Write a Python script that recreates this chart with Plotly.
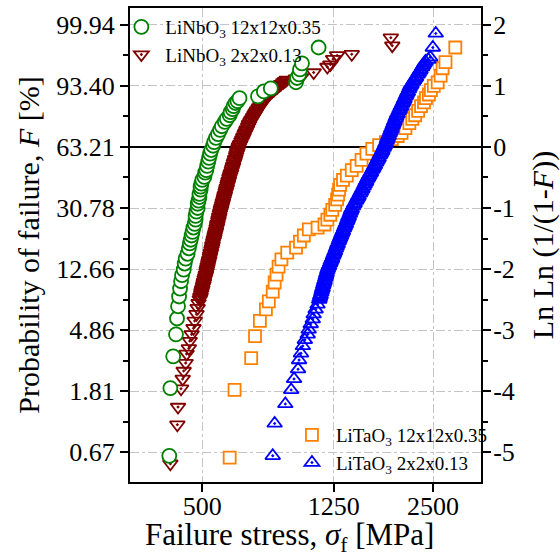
import plotly.graph_objects as go

FONT = '"Liberation Serif", "Times New Roman", Times, serif'

# ---------------------------------------------------------------------------
# Weibull plot data: failure stress [MPa] vs. ln(ln(1/(1-F)))
# ---------------------------------------------------------------------------

# LiNbO3 12x12x0.35
nb12_stress = [397, 400, 408, 416, 419, 422, 425, 428, 431, 434, 439, 442, 445, 451, 455,
               458, 461, 464, 467, 470, 474, 477, 477, 480, 484, 484, 487, 490, 490, 494,
               494, 497, 500, 507, 510, 514, 517, 521, 524, 528, 532, 539, 543, 550, 558,
               566, 573, 585, 593, 605, 609, 618, 622, 630, 639, 648, 737, 768, 806, 961,
               968, 982, 988, 1002, 1125]
nb12_lnln = [-5.06, -3.95, -3.43, -3.07, -2.81, -2.61, -2.45, -2.32, -2.20, -2.10, -2.01,
             -1.91, -1.83, -1.75, -1.66, -1.58, -1.52, -1.45, -1.39, -1.32, -1.26, -1.19,
             -1.13, -1.06, -1.00, -0.93, -0.88, -0.82, -0.77, -0.70, -0.65, -0.60, -0.54,
             -0.49, -0.42, -0.38, -0.31, -0.24, -0.18, -0.11, -0.05, 0.02, 0.08, 0.15,
             0.21, 0.28, 0.34, 0.41, 0.46, 0.52, 0.57, 0.62, 0.67, 0.72, 0.75, 0.80, 0.83,
             0.91, 0.96, 1.06, 1.13, 1.19, 1.27, 1.37, 1.63]

# LiNbO3 2x2x0.13
nb2_stress = [400, 420, 422, 431, 436, 439, 445, 448, 455, 458, 464, 470, 474, 480, 484, 487,
              491, 493, 494, 496, 497, 499, 500, 502, 504, 505, 506, 508, 510, 512, 513, 515, 516,
              518, 519, 521, 522, 524, 525, 527, 528, 530, 531, 533, 535, 536, 537, 539, 541, 542,
              544, 545, 547, 549, 550, 552, 554, 555, 556, 559, 560, 562, 563, 565, 567, 569, 570,
              572, 574, 576, 577, 580, 582, 584, 585, 588, 590, 592, 593, 596, 598, 600, 602, 604,
              607, 609, 611, 614, 616, 619, 620, 623, 626, 628, 630, 633, 635, 638, 639, 643, 645,
              649, 652, 657, 661, 665, 667, 672, 676, 680, 683, 688, 692, 694,
              699, 704, 710, 713, 719, 724, 728,
              733, 740, 744, 751, 757, 762, 768, 773,
              780, 787, 797, 803, 814, 823, 835, 844, 857, 866, 880, 890, 900,
              960, 995, 1087, 1196, 1221, 1245, 1280, 1418, 1881, 1862]
nb2_lnln = [-5.19, -4.55, -4.26, -3.96, -3.80, -3.67, -3.54, -3.39, -3.30, -3.18, -3.07, -2.97,
            -2.85, -2.74, -2.64, -2.56,
            -2.50, -2.47, -2.45, -2.41, -2.38, -2.35, -2.33, -2.29, -2.26, -2.23, -2.21, -2.17,
            -2.14, -2.11, -2.09, -2.05, -2.02,
            -1.99, -1.96, -1.93, -1.90, -1.87, -1.85, -1.81, -1.78, -1.75, -1.73, -1.69, -1.66,
            -1.63, -1.61, -1.57, -1.54, -1.52,
            -1.49, -1.46, -1.43, -1.40, -1.38, -1.34, -1.31, -1.28, -1.26, -1.22, -1.19, -1.16,
            -1.14, -1.10, -1.07, -1.04, -1.02,
            -0.99, -0.96, -0.93, -0.91, -0.87, -0.84, -0.81, -0.79, -0.75, -0.72, -0.69, -0.67,
            -0.63, -0.60, -0.57, -0.55, -0.51,
            -0.48, -0.45, -0.43, -0.39, -0.36, -0.33, -0.31, -0.27, -0.24, -0.21, -0.19, -0.15,
            -0.12, -0.09, -0.07, -0.03, 0.00,
            0.03, 0.05, 0.09, 0.12, 0.15, 0.17, 0.21, 0.24, 0.27, 0.29, 0.33, 0.36, 0.38,
            0.41, 0.44, 0.47, 0.49, 0.52, 0.55, 0.57,
            0.60, 0.63, 0.65, 0.68, 0.71, 0.73, 0.76, 0.78,
            0.81, 0.83, 0.86, 0.88, 0.91, 0.93, 0.96, 0.98, 1.01, 1.03, 1.06, 1.08, 1.10,
            1.12, 1.14, 1.22, 1.31, 1.35, 1.44, 1.50, 1.52, 1.66, 1.79]

# LiTaO3 12x12x0.35
ta12_stress = [605, 626, 703, 722, 747, 779, 795, 817, 828, 839, 851, 868, 904, 961, 988,
               1015, 1051, 1117, 1172, 1196, 1221, 1238, 1263, 1280, 1289, 1298, 1307, 1334,
               1370, 1418, 1467, 1518, 1571, 1636, 1716, 1799, 1875, 1953, 2007, 2062, 2119,
               2163, 2207, 2253, 2299, 2347, 2379, 2428, 2462, 2513, 2582, 2636, 2672, 2727,
               2920]
ta12_lnln = [-5.09, -3.98, -3.46, -3.10, -2.85, -2.66, -2.53, -2.37, -2.22, -2.09, -1.96,
             -1.84, -1.73, -1.65, -1.55, -1.45, -1.35, -1.32, -1.27, -1.19, -1.11, -1.03,
             -0.95, -0.86, -0.78, -0.70, -0.62, -0.54, -0.47, -0.38, -0.31, -0.21, -0.11,
             -0.03, 0.03, 0.08, 0.13, 0.18, 0.23, 0.31, 0.39, 0.46, 0.52, 0.59, 0.67, 0.73,
             0.80, 0.86, 0.93, 1.00, 1.06, 1.17, 1.29, 1.39, 1.63]

# LiTaO3 2x2x0.13
ta2_stress = [817, 828, 892, 929, 948, 975, 982, 995, 1008, 1022, 1043, 1050, 1065, 1080,
              1087, 1102, 1117,
              1130, 1134, 1138, 1141, 1146, 1150, 1154, 1157, 1162, 1166, 1171, 1173, 1179,
              1183, 1187, 1190, 1195,
              1200, 1206, 1211, 1219, 1225, 1232, 1236, 1244, 1251, 1257, 1261, 1269, 1276,
              1282, 1286, 1295, 1301,
              1308, 1315, 1322, 1329, 1333, 1343, 1350, 1357, 1361, 1371, 1378, 1385, 1389,
              1399, 1406, 1413, 1418,
              1430, 1440, 1447, 1460, 1470, 1481, 1487, 1501, 1511, 1521, 1528, 1541, 1551,
              1561, 1568, 1581,
              1592, 1603, 1614, 1622, 1637, 1648, 1659, 1667, 1681, 1693, 1704, 1711, 1726,
              1738, 1749, 1756, 1771,
              1781, 1791, 1797, 1810, 1819, 1828, 1835, 1847, 1857, 1866, 1872, 1885, 1894,
              1904, 1910, 1923, 1932,
              1944, 1952, 1968, 1980, 1992, 1999, 2016, 2028, 2040, 2048, 2064, 2076, 2089,
              2097, 2113, 2125,
              2139, 2151, 2174, 2192, 2210, 2221, 2245, 2263, 2280, 2292, 2316, 2334, 2352,
              2370,
              2420, 2450, 2496, 2548]
ta2_lnln = [-5.06, -4.53, -4.21, -3.98, -3.80, -3.64, -3.49, -3.38, -3.26, -3.16, -3.07,
            -2.99, -2.90, -2.82, -2.74, -2.66, -2.58,
            -2.50, -2.47, -2.44, -2.42, -2.38, -2.35, -2.32, -2.30, -2.26, -2.23, -2.20, -2.18,
            -2.14, -2.11, -2.08, -2.06, -2.02,
            -1.99, -1.96, -1.94, -1.90, -1.87, -1.84, -1.82, -1.78, -1.75, -1.72, -1.70, -1.66,
            -1.63, -1.60, -1.58, -1.54, -1.51,
            -1.48, -1.45, -1.42, -1.39, -1.37, -1.33, -1.30, -1.27, -1.25, -1.21, -1.18, -1.15,
            -1.13, -1.09, -1.06, -1.03, -1.01,
            -0.97, -0.94, -0.92, -0.88, -0.85, -0.82, -0.80, -0.76, -0.73, -0.70, -0.68, -0.64,
            -0.61, -0.58, -0.56, -0.52,
            -0.49, -0.46, -0.43, -0.41, -0.37, -0.34, -0.31, -0.29, -0.25, -0.22, -0.19, -0.17,
            -0.13, -0.10, -0.07, -0.05, -0.01,
            0.02, 0.05, 0.07, 0.11, 0.14, 0.17, 0.19, 0.23, 0.26, 0.29, 0.31, 0.35, 0.38,
            0.41, 0.43, 0.47, 0.50,
            0.53, 0.55, 0.59, 0.62, 0.65, 0.67, 0.71, 0.74, 0.77, 0.79, 0.83, 0.86, 0.89,
            0.91, 0.95, 0.98,
            1.01, 1.03, 1.07, 1.10, 1.13, 1.15, 1.19, 1.22, 1.25, 1.27, 1.31, 1.34, 1.37,
            1.40,
            1.43, 1.47, 1.63, 1.86]

# Axis ticks
x_ticks = [500, 1250, 2500]
lnln_ticks = [-5, -4, -3, -2, -1, 0, 1, 2]
prob_labels = ["0.67", "1.81", "4.86", "12.66", "30.78", "63.21", "93.40", "99.94"]
lnln_labels = ["-5", "-4", "-3", "-2", "-1", "0", "1", "2"]
minor_ticks = [-4.5, -3.5, -2.5, -1.5, -0.5, 0.5, 1.5]

Y_RANGE = [-5.489, 2.277]
X_RANGE = [2.4798, 3.5432]

GREEN = "#008000"
MAROON = "#800000"
ORANGE = "#FF8000"
BLUE = "#0000FF"

fig = go.Figure()


def add_series(stress, lnln, name, symbol, color, fill, size, yaxis, legend, rank):
    fig.add_trace(go.Scatter(
        x=stress, y=lnln, mode="markers", name=name,
        marker=dict(symbol=symbol, size=size, color=fill,
                    line=dict(color=color, width=1.8)),
        yaxis=yaxis, legend=legend, legendgroup=name, legendrank=rank,
        showlegend=True,
    ))


add_series(nb2_stress, nb2_lnln, "LiNbO<sub>3</sub> 2x2x0.13",
           "triangle-down-open-dot", MAROON, MAROON, 13, "y", "legend", 2)
add_series(nb12_stress, nb12_lnln, "LiNbO<sub>3</sub> 12x12x0.35",
           "circle", GREEN, "white", 14, "y", "legend", 1)
add_series(ta12_stress, ta12_lnln, "LiTaO<sub>3</sub> 12x12x0.35",
           "square", ORANGE, "white", 12, "y2", "legend2", 3)
add_series(ta2_stress, ta2_lnln, "LiTaO<sub>3</sub> 2x2x0.13",
           "triangle-up-open-dot", BLUE, BLUE, 13, "y2", "legend2", 4)

tick_font = dict(family=FONT, size=26, color="black")
title_font = dict(family=FONT, size=30, color="black")
grid = dict(showgrid=True, gridcolor="#c4c4c4", gridwidth=1, griddash="dashdot")
legend_font = dict(family=FONT, size=19, color="black")

fig.update_layout(
    width=560, height=560,
    margin=dict(l=130, r=71, t=6, b=78, pad=0),
    paper_bgcolor="white", plot_bgcolor="white",
    font=dict(family=FONT, color="black"),
    xaxis=dict(
        type="log", range=X_RANGE,
        tickmode="array", tickvals=x_ticks, ticktext=[str(v) for v in x_ticks],
        ticks="outside", ticklen=8, tickwidth=2, tickcolor="black",
        ticklabelstandoff=-8,
        showline=True, linewidth=2, linecolor="black", mirror=True,
        tickfont=tick_font, zeroline=False,
        **grid,
    ),
    yaxis=dict(
        range=Y_RANGE,
        tickmode="array", tickvals=lnln_ticks, ticktext=prob_labels,
        ticks="outside", ticklen=8, tickwidth=2, tickcolor="black",
        minor=dict(tickmode="array", tickvals=minor_ticks, ticks="outside",
                   ticklen=5, tickwidth=2, tickcolor="black", showgrid=False),
        showline=True, linewidth=2, linecolor="black", mirror=True,
        tickfont=tick_font,
        zeroline=True, zerolinecolor="black", zerolinewidth=2,
        title=dict(text="Probability of failure, <i>F</i> [%]",
                   font=title_font, standoff=8),
        **grid,
    ),
    yaxis2=dict(
        range=Y_RANGE, overlaying="y", side="right",
        tickmode="array", tickvals=lnln_ticks, ticktext=lnln_labels,
        ticks="outside", ticklen=8, tickwidth=2, tickcolor="black",
        ticklabelstandoff=-3,
        minor=dict(tickmode="array", tickvals=minor_ticks, ticks="outside",
                   ticklen=5, tickwidth=2, tickcolor="black", showgrid=False),
        showline=True, linewidth=2, linecolor="black",
        tickfont=tick_font, showgrid=False, zeroline=False,
        title=dict(text="Ln Ln (1/(1-<i>F</i>))", font=title_font, standoff=18),
    ),
    legend=dict(
        x=-0.036, y=1.0, xanchor="left", yanchor="top",
        bgcolor="rgba(0,0,0,0)", borderwidth=0, font=legend_font,
        tracegroupgap=0, traceorder="grouped", itemwidth=38,
    ),
    legend2=dict(
        x=0.450, y=0.0, xanchor="left", yanchor="bottom",
        bgcolor="rgba(0,0,0,0)", borderwidth=0, font=legend_font,
        tracegroupgap=0, traceorder="grouped", itemwidth=38,
    ),
    annotations=[dict(
        text="Failure stress, <i>σ</i><sub>f</sub> [MPa]",
        xref="paper", yref="paper", x=0.454, y=-0.1155,
        xanchor="center", yanchor="middle", showarrow=False,
        font=dict(family=FONT, size=31, color="black"),
    )],
)

fig.write_html("out.html")
